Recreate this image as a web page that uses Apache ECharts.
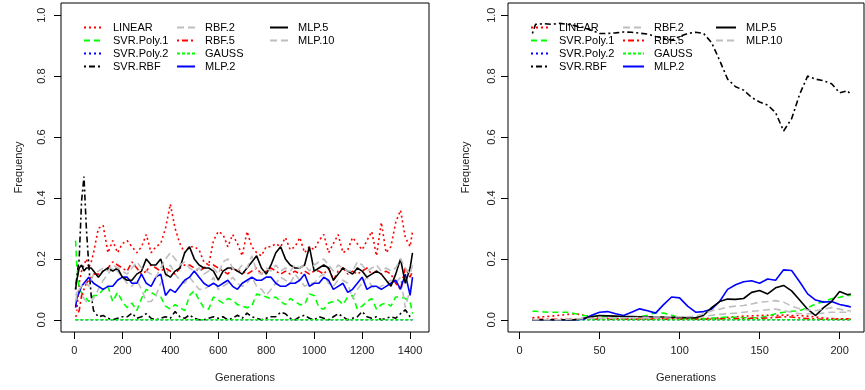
<!DOCTYPE html>
<html><head><meta charset="utf-8">
<script src="https://cdn.jsdelivr.net/npm/echarts@6.0.0/dist/echarts.min.js"></script>
<style>html,body{margin:0;padding:0;background:#fff}#c{width:865px;height:390px}</style>
</head><body><div id="c"></div><script>
// ---------- data ----------
const gensL = [5,10,20,30,40,50,60,70,
  80,100,120,140,160,180,200,220,240,260,280,300,320,340,360,380,
  400,420,440,460,480,500,520,540,560,580,600,620,640,660,680,700,
  720,740,760,780,800,820,840,860,880,900,920,940,960,980,1000,1020,
  1040,1060,1080,1100,1120,1140,1160,1180,1200,1220,1240,1260,1280,1300,1320,1340,
  1360,1380,1400,1410];
const gensR = [8,10,15,20,25,30,35,40,45,50,
  55,60,65,70,75,80,85,90,95,100,
  105,110,115,120,125,130,135,140,145,150,
  155,160,165,170,175,180,185,190,195,200,
  205,207];
const ticksL = [0,200,400,600,800,1000,1200,1400];
const ticksR = [0,50,100,150,200];
const ticksY = [0,0.2,0.4,0.6,0.8,1.0];

const linearL = [0.05,0.03,0.12,0.16,0.18,0.20,0.17,0.19,
  0.22,0.30,0.31,0.22,0.26,0.22,0.25,0.26,0.24,0.22,0.24,0.28,0.22,0.24,0.25,0.30,
  0.38,0.30,0.25,0.22,0.24,0.24,0.23,0.19,0.18,0.26,0.29,0.28,0.24,0.28,0.25,0.21,
  0.29,0.24,0.22,0.21,0.24,0.24,0.25,0.24,0.27,0.23,0.24,0.27,0.22,0.24,0.23,0.26,
  0.28,0.22,0.25,0.28,0.22,0.23,0.27,0.25,0.23,0.26,0.29,0.21,0.32,0.22,0.24,0.32,
  0.36,0.27,0.24,0.29];
const poly1L = [0.26,0.18,0.10,0.09,0.08,0.07,0.06,0.07,
  0.08,0.08,0.10,0.11,0.06,0.09,0.06,0.04,0.055,0.03,0.07,0.10,0.09,0.08,0.075,0.045,
  0.035,0.05,0.04,0.03,0.08,0.095,0.065,0.04,0.035,0.075,0.065,0.055,0.07,0.065,0.05,0.045,
  0.04,0.045,0.085,0.08,0.075,0.07,0.075,0.06,0.05,0.07,0.06,0.05,0.05,0.085,0.08,0.04,
  0.035,0.055,0.06,0.065,0.05,0.075,0.08,0.035,0.045,0.06,0.07,0.035,0.05,0.055,0.045,0.075,
  0.075,0.07,0.06,0.02];
const poly2L = [0,0,0,0,0,0,0,0,
  0,0,0,0,0,0,0,0,0,0,0,0,0,0,0,0,
  0,0,0,0,0,0,0,0,0,0,0,0,0,0,0,0,
  0,0,0,0,0,0,0,0,0,0,0,0,0,0,0,0,
  0,0,0,0,0,0,0,0,0,0,0,0,0,0,0,0,
  0,0,0,0];
const svrRbfL = [0.10,0.14,0.20,0.39,0.47,0.30,0.18,0.08,
  0.03,0.01,0.014,0.005,0,0.005,0.01,0.01,0.022,0.005,0.01,0.02,0.005,0,0.005,0.01,
  0.005,0.027,0.01,0.005,0.016,0.005,0,0,0.005,0.01,0.005,0.01,0,0.005,0.015,0.005,
  0.022,0.01,0.005,0,0.005,0.01,0.01,0.025,0.02,0.005,0,0.01,0.015,0.005,0,0.01,
  0.005,0,0.01,0.02,0.01,0,0.005,0.01,0.027,0.01,0.005,0.01,0,0.005,0.01,0.005,
  0.02,0.033,0.01,0.005];
const rbf2L = [0.08,0.09,0.09,0.08,0.07,0.06,0.06,0.06,
  0.07,0.10,0.13,0.15,0.17,0.16,0.14,0.12,0.11,0.13,0.10,0.06,0.06,0.08,0.12,0.14,
  0.18,0.15,0.13,0.12,0.14,0.12,0.10,0.10,0.11,0.14,0.10,0.11,0.12,0.14,0.12,0.11,
  0.12,0.14,0.11,0.10,0.08,0.10,0.12,0.14,0.13,0.12,0.15,0.13,0.11,0.12,0.12,0.14,
  0.15,0.12,0.11,0.13,0.13,0.12,0.07,0.10,0.12,0.14,0.11,0.10,0.11,0.12,0.13,0.12,
  0.14,0.04,0.10,0.12];
const rbf5L = [0.01,0.01,0.03,0.08,0.10,0.12,0.13,0.14,
  0.15,0.15,0.16,0.17,0.19,0.18,0.17,0.16,0.19,0.17,0.15,0.16,0.18,0.17,0.16,0.17,
  0.16,0.15,0.17,0.18,0.18,0.17,0.16,0.17,0.18,0.18,0.17,0.16,0.15,0.17,0.16,0.16,
  0.15,0.16,0.17,0.15,0.16,0.17,0.16,0.15,0.16,0.15,0.16,0.15,0.16,0.15,0.16,0.16,
  0.15,0.17,0.13,0.16,0.17,0.15,0.16,0.15,0.16,0.17,0.15,0.16,0.15,0.16,0.15,0.12,
  0.10,0.17,0.14,0.16];
const gaussL = [0,0,0,0,0,0,0,0,
  0,0,0,0,0,0,0,0,0,0,0,0,0,0,0,0,
  0,0,0,0,0,0,0,0,0,0,0,0,0,0,0,0,
  0,0,0,0,0,0,0,0,0,0,0,0,0,0,0,0,
  0,0,0,0,0,0,0,0,0,0,0,0,0,0,0,0,
  0,0,0,0];
const mlp2L = [0.04,0.07,0.09,0.11,0.12,0.13,0.14,0.13,
  0.12,0.11,0.10,0.11,0.11,0.13,0.14,0.14,0.12,0.12,0.15,0.12,0.11,0.14,0.15,0.08,
  0.10,0.09,0.11,0.13,0.14,0.16,0.14,0.12,0.11,0.12,0.11,0.12,0.13,0.11,0.10,0.12,
  0.13,0.14,0.13,0.13,0.14,0.14,0.12,0.11,0.11,0.12,0.12,0.13,0.15,0.11,0.12,0.12,
  0.14,0.13,0.10,0.11,0.12,0.09,0.10,0.12,0.14,0.10,0.11,0.11,0.10,0.11,0.12,0.13,
  0.10,0.15,0.08,0.14];
const mlp5L = [0.10,0.13,0.17,0.18,0.16,0.17,0.17,0.17,
  0.16,0.14,0.16,0.17,0.16,0.17,0.14,0.13,0.13,0.15,0.16,0.20,0.18,0.18,0.20,0.15,
  0.14,0.16,0.17,0.22,0.24,0.20,0.18,0.17,0.17,0.16,0.13,0.16,0.17,0.17,0.16,0.15,
  0.17,0.19,0.21,0.17,0.15,0.18,0.22,0.24,0.20,0.18,0.17,0.17,0.18,0.24,0.16,0.17,
  0.18,0.17,0.13,0.15,0.17,0.16,0.15,0.17,0.16,0.14,0.15,0.16,0.15,0.13,0.11,0.15,
  0.20,0.12,0.17,0.22];
const mlp10L = [0.06,0.08,0.10,0.11,0.12,0.12,0.11,0.13,
  0.15,0.16,0.17,0.16,0.18,0.17,0.16,0.15,0.17,0.19,0.17,0.16,0.15,0.14,0.17,0.20,
  0.22,0.20,0.18,0.19,0.17,0.16,0.17,0.15,0.16,0.17,0.15,0.19,0.20,0.17,0.16,0.18,
  0.17,0.21,0.16,0.15,0.17,0.16,0.18,0.16,0.17,0.16,0.18,0.17,0.18,0.16,0.18,0.19,
  0.20,0.18,0.16,0.18,0.17,0.16,0.16,0.19,0.18,0.16,0.17,0.18,0.16,0.17,0.16,0.17,
  0.20,0.17,0.15,0.18];

const linearR = [0.007,0.008,0.01,0.012,0.015,0.018,0.02,0.015,0.008,0.005,
  0.004,0.003,0.003,0.004,0.003,0.003,0.004,0.003,0.003,0.003,
  0.003,0.003,0.004,0.005,0.006,0.008,0.01,0.012,0.013,0.014,
  0.015,0.014,0.016,0.014,0.014,0.012,0.009,0.006,0.004,0.003,
  0.003,0.003];
const poly1R = [0.028,0.028,0.026,0.025,0.025,0.025,0.02,0.014,0.012,0.011,
  0.01,0.01,0.01,0.009,0.01,0.015,0.024,0.022,0.015,0.008,
  0.004,0.003,0.003,0.005,0.007,0.009,0.008,0.007,0.007,0.007,
  0.012,0.02,0.025,0.028,0.03,0.04,0.052,0.06,0.069,0.074,
  0.08,0.08];
const poly2R = [0,0,0,0,0,0,0,0,0,0, 0,0,0,0,0,0,0,0,0,0, 0,0,0,0,0,0,0,0,0,0, 0,0,0,0,0,0,0,0,0,0, 0,0];
const svrRbfR = [0.94,0.97,0.972,0.97,0.973,0.97,0.965,0.96,0.95,0.94,
  0.94,0.942,0.945,0.944,0.941,0.938,0.93,0.925,0.918,0.93,
  0.94,0.944,0.94,0.91,0.852,0.79,0.765,0.754,0.73,0.715,
  0.705,0.68,0.62,0.66,0.74,0.80,0.79,0.785,0.775,0.745,
  0.752,0.738];
const rbf2R = [0,0,0,0,0,0,0.002,0.003,0.004,0.004,
  0.004,0.005,0.005,0.005,0.005,0.006,0.006,0.006,0.007,0.007,
  0.007,0.008,0.01,0.015,0.018,0.02,0.022,0.025,0.028,0.03,
  0.033,0.035,0.03,0.025,0.02,0.02,0.02,0.022,0.025,0.025,
  0.025,0.025];
const rbf5R = [0.002,0.002,0.002,0.002,0.002,0.002,0.002,0.002,0.002,0.002,
  0.002,0.002,0.002,0.002,0.002,0.002,0.002,0.002,0.002,0.002,
  0.002,0.002,0.002,0.002,0.003,0.003,0.004,0.004,0.005,0.005,
  0.006,0.008,0.01,0.009,0.006,0.004,0.003,0.002,0.002,0.002,
  0.002,0.002];
const gaussR = [0,0,0,0,0,0,0,0,0,0, 0,0,0,0,0,0,0,0,0,0, 0,0,0,0,0,0,0,0,0,0, 0,0,0,0,0,0,0,0,0,0, 0,0];
const mlp2R = [0,0,0,0,0,0,0,0.002,0.015,0.025,
  0.027,0.02,0.014,0.025,0.036,0.03,0.022,0.05,0.075,0.072,
  0.045,0.025,0.027,0.035,0.06,0.1,0.115,0.125,0.128,0.12,
  0.134,0.13,0.164,0.162,0.125,0.085,0.065,0.058,0.06,0.05,
  0.045,0.042];
const mlp5R = [0,0,0,0,0,0,0,0.005,0.01,0.014,
  0.013,0.012,0.011,0.011,0.01,0.01,0.009,0.009,0.008,0.008,
  0.007,0.007,0.015,0.04,0.06,0.068,0.067,0.07,0.09,0.096,
  0.085,0.105,0.113,0.095,0.065,0.035,0.014,0.04,0.06,0.093,
  0.082,0.085];
const mlp10R = [0,0,0,0,0,0.002,0.003,0.004,0.005,0.005,
  0.006,0.006,0.007,0.007,0.008,0.008,0.009,0.009,0.01,0.01,
  0.01,0.012,0.02,0.03,0.035,0.042,0.045,0.047,0.052,0.058,
  0.06,0.063,0.058,0.045,0.036,0.032,0.03,0.035,0.04,0.035,
  0.03,0.03];

// ---------- styling ----------
const FONT = '"Liberation Sans", Arial, Helvetica, sans-serif';
const defs = [
  {name:'LINEAR',     color:'#FF0000', dash:[2,3],       L:linearL, R:linearR},
  {name:'SVR.Poly.1', color:'#00FF00', dash:[6,4],       L:poly1L,  R:poly1R},
  {name:'SVR.Poly.2', color:'#0000FF', dash:[2,3],       L:poly2L,  R:poly2R},
  {name:'SVR.RBF',    color:'#000000', dash:[2,3,6,3],   L:svrRbfL, R:svrRbfR},
  {name:'RBF.2',      color:'#BEBEBE', dash:[7,4],       L:rbf2L,   R:rbf2R},
  {name:'RBF.5',      color:'#FF0000', dash:[2,3,6,3],   L:rbf5L,   R:rbf5R},
  {name:'GAUSS',      color:'#00FF00', dash:[3,2],       L:gaussL,  R:gaussR},
  {name:'MLP.2',      color:'#0000FF', dash:'solid',     L:mlp2L,   R:mlp2R},
  {name:'MLP.5',      color:'#000000', dash:'solid',     L:mlp5L,   R:mlp5R},
  {name:'MLP.10',     color:'#BEBEBE', dash:[7,4],       L:mlp10L,  R:mlp10R}
];

function zip(xs, ys){ return xs.map((x,i)=>[x, ys[i]]); }

const series = [];
defs.forEach(d => {
  [[0, gensL, d.L], [1, gensR, d.R]].forEach(([gi, xs, ys]) => {
    series.push({
      name: d.name, type:'line', xAxisIndex:gi, yAxisIndex:gi,
      data: zip(xs, ys), symbol:'none', showSymbol:false, smooth:false,
      lineStyle:{color:d.color, width:1.6, type:d.dash},
      itemStyle:{color:d.color}, animation:false, silent:true
    });
  });
});

const labelStyle = {fontSize:11, fontFamily:FONT, color:'#222'};
function xAxis(gi, min, max, ticks){
  return {type:'value', gridIndex:gi, min, max,
    name:'Generations', nameLocation:'middle', nameGap:40,
    nameTextStyle:{fontSize:11, fontFamily:FONT, color:'#222'},
    splitLine:{show:false},
    axisLine:{show:false, onZero:false},
    axisTick:{show:true, inside:false, length:7, customValues:ticks, lineStyle:{color:'#000', width:1}},
    axisLabel:Object.assign({customValues:ticks, margin:13, formatter:v=>String(v)}, labelStyle)};
}
function yAxis(gi, margin){
  return {type:'value', gridIndex:gi, min:-0.04, max:1.04,
    name:'Frequency', nameLocation:'middle', nameGap:37, nameRotate:90,
    nameTextStyle:{fontSize:11, fontFamily:FONT, color:'#222'},
    splitLine:{show:false},
    axisLine:{show:false, onZero:false},
    axisTick:{show:true, inside:false, length:7, customValues:ticksY, lineStyle:{color:'#000', width:1}},
    axisLabel:Object.assign({customValues:ticksY, margin, rotate:90, formatter:v=>Number(v).toFixed(1)}, labelStyle)};
}
function legendCol(left, names, w){
  return {left, top:22, orient:'vertical', data:names, itemWidth:w, itemHeight:10, itemGap:2,
    selectedMode:false, padding:0,
    itemStyle:{opacity:0},
    textStyle:{fontSize:11, fontFamily:FONT, color:'#000', padding:[0,0,0,5]}};
}
const col1 = ['LINEAR','SVR.Poly.1','SVR.Poly.2','SVR.RBF'];
const col2 = ['RBF.2','RBF.5','GAUSS','MLP.2'];
const col3 = ['MLP.5','MLP.10'];

const chart = echarts.init(document.getElementById('c'), null, {renderer:'canvas'});
chart.setOption({
  animation:false,
  backgroundColor:'#fff',
  grid:[
    {left:61, top:3, width:368, height:329, show:true, borderColor:'#000', borderWidth:1, backgroundColor:'transparent'},
    {left:508, top:3, width:356, height:329, show:true, borderColor:'#000', borderWidth:1, backgroundColor:'transparent'}
  ],
  xAxis:[xAxis(0, -55.8, 1478.8, ticksL), xAxis(1, -7.24, 215.24, ticksR)],
  yAxis:[yAxis(0, 14), yAxis(1, 11)],
  legend:[
    legendCol(83, col1, 19), legendCol(176, col2, 18), legendCol(269, col3, 18),
    legendCol(530, col1, 18), legendCol(622, col2, 21), legendCol(715, col3, 20)
  ],
  series
});
</script></body></html>
